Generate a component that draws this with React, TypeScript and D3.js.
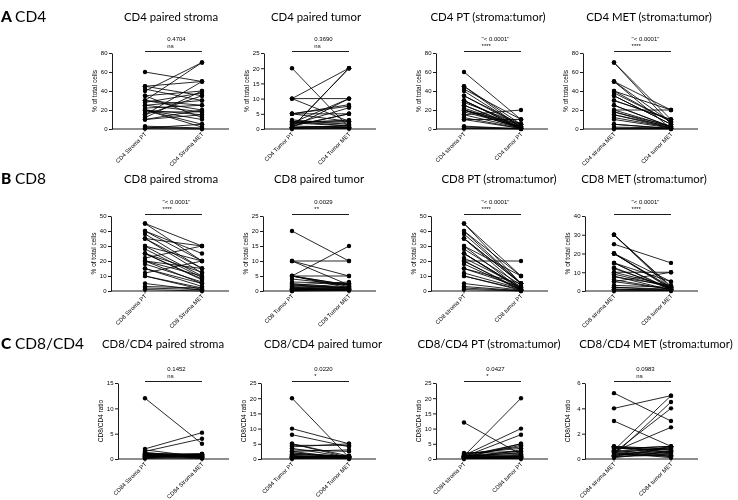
import React, { useEffect, useRef } from 'react';
import * as d3 from 'd3';

// ---------- DATA (per patient, % of total cells) ----------
const cd4StromaPT = [60, 45, 42, 40, 35, 30, 30, 30, 15, 25, 20, 20, 20, 20, 18, 15, 12, 10, 10, 3, 2, 1, 0.5, 28, 22, 35, 45, 25];
const cd4StromaMET = [50, 35, 30, 70, 40, 70, 25, 20, 50, 30, 15, 10, 5, 2, 18, 35, 40, 20, 15, 1, 0.5, 5, 0, 38, 25, 12, 50, 18];
const cd4TumorPT = [10, 5, 10, 2, 5, 1, 2.5, 0.5, 20, 0.5, 5, 2.5, 1, 0.5, 2, 1, 0.5, 10, 0.5, 0.2, 0.5, 0.2, 0.1, 5, 2, 3, 1.5, 2];
const cd4TumorMET = [20, 5, 10, 10, 7.5, 5, 2.5, 20, 0.5, 10, 2.5, 1, 0.5, 1, 1, 5, 20, 2.5, 1, 0.5, 0.2, 0.5, 0.2, 8, 2, 1.5, 7, 3];

const cd8StromaPT = [45, 40, 40, 35, 35, 30, 30, 25, 25, 20, 20, 20, 15, 15, 10, 10, 5, 3, 2, 1, 45, 35, 25, 22, 12, 18, 28, 38];
const cd8StromaMET = [30, 25, 20, 30, 15, 20, 10, 12.5, 8, 5, 15, 10, 5, 3, 2, 1, 0.5, 2, 1, 0, 20, 12, 7.5, 30, 20, 6, 9, 15];
const cd8TumorPT = [5, 5, 10, 2, 5, 1, 10, 2, 1, 20, 0.5, 1, 2.5, 5, 0.5, 1, 0.5, 0.2, 0.1, 0, 10, 5, 2, 3, 1.5, 0.8, 4, 5];
const cd8TumorMET = [2, 15, 2, 1, 1, 1.5, 10, 1, 0.5, 10, 0.5, 2.5, 1, 2, 0.5, 0.3, 0.2, 1, 0.5, 0.2, 5, 1.5, 3, 2.5, 1, 0.8, 2, 5];

const ratioStromaPT = [12, 2, 1.5, 1, 1.2, 0.8, 1, 0.5, 0.7, 0.3, 0.9, 0.6, 0.4, 1.1, 0.2, 0.5, 0.8, 1.3, 0.3, 0.1, 0.6, 0.9, 0.4, 1.8, 0.7, 0.2, 1, 0.5];
const ratioStromaMET = [3, 5.2, 4, 0.3, 0.7, 0.5, 1, 0.8, 0.3, 0.6, 1, 0.2, 0.9, 0.4, 0.1, 0.6, 0.9, 0.2, 0.7, 0.5, 1, 0.3, 0.8, 0.4, 0.6, 0.9, 0.2, 0.5];
const ratioTumorPT = [1.5, 2.5, 4, 20, 10, 8, 5, 5, 4.5, 3, 2, 1, 0.5, 2.5, 0.8, 0.3, 1.2, 0.6, 0.4, 0.2, 0.9, 1.5, 0.7, 3.5, 0.5, 0.1, 2, 0.3];
const ratioTumorMET = [1, 3, 5, 0.5, 5, 4, 0.5, 1, 4.5, 2.5, 0.8, 0.3, 0.7, 0.2, 0.6, 0.9, 0.4, 1, 0.3, 0.1, 0.5, 0.8, 1, 0.6, 0.2, 0.7, 0.4, 0.9];

// ---------- LABELS ----------
const rowLetters = ['A', 'B', 'C'];
const rowNames = ['CD4', 'CD8', 'CD8/CD4'];
const panelTitles = [
  ['CD4 paired stroma', 'CD4 paired tumor', 'CD4 PT (stroma:tumor)', 'CD4 MET (stroma:tumor)'],
  ['CD8 paired stroma', 'CD8 paired tumor', 'CD8 PT (stroma:tumor)', 'CD8 MET (stroma:tumor)'],
  ['CD8/CD4 paired stroma', 'CD8/CD4 paired tumor', 'CD8/CD4 PT (stroma:tumor)', 'CD8/CD4 MET (stroma:tumor)'],
];
const categoryLabels = [
  [['CD4 Stroma PT', 'CD4 Stroma MET'], ['CD4 Tumor PT', 'CD4 Tumor MET'], ['CD4 stroma PT', 'CD4 tumor PT'], ['CD4 stroma MET', 'CD4 tumor MET']],
  [['CD8 Stroma PT', 'CD8 Stroma MET'], ['CD8 Tumor PT', 'CD8 Tumor MET'], ['CD8 stroma PT', 'CD8 tumor PT'], ['CD8 stroma MET', 'CD8 tumor MET']],
  [['CD84 Stroma PT', 'CD84 Stroma MET'], ['CD84 Tumor PT', 'CD84 Tumor MET'], ['CD84 stroma PT', 'CD84 tumor PT'], ['CD84 stroma MET', 'CD84 tumor MET']],
];
const yAxisLabels = ['% of total cells', '% of total cells', 'CD8/CD4 ratio'];
const yMaxes = [[80, 25, 80, 80], [50, 25, 50, 40], [15, 25, 25, 6]];
const yTickSteps = [[20, 5, 20, 20], [10, 5, 10, 10], [5, 5, 5, 2]];
const pValues = [
  ['0.4704', '0.3690', '"< 0.0001"', '"< 0.0001"'],
  ['"< 0.0001"', '0.0029', '"< 0.0001"', '"< 0.0001"'],
  ['0.1452', '0.0220', '0.0427', '0.0983'],
];
const sigStars = [
  ['ns', 'ns', '****', '****'],
  ['****', '**', '****', '****'],
  ['ns', '*', '*', 'ns'],
];

const rowData = [
  [cd4StromaPT, cd4StromaMET, cd4TumorPT, cd4TumorMET],
  [cd8StromaPT, cd8StromaMET, cd8TumorPT, cd8TumorMET],
  [ratioStromaPT, ratioStromaMET, ratioTumorPT, ratioTumorMET],
];
// pairs: [left index, right index] into rowData arrays for each column
const columnPairs = [[0, 1], [2, 3], [0, 2], [1, 3]];

// ---------- LAYOUT ----------
const W = 738, H = 500;
const colCats = [[145, 202], [292, 349], [464, 521], [614, 671]];
const axisXs = [[112, 264, 436, 583], [111, 263, 431, 585], [118, 261, 436, 585]];
const rowY = [[53, 129], [216, 291], [383, 459]];
const rowTitleY = [21, 183, 348];
const titleXs = [[171, 316, 488, 649], [171, 319, 499, 644], [163, 323, 489, 656]];
const SMALL = '"Liberation Sans", Arial, sans-serif';
const TITLE = 'Lato, "Open Sans", sans-serif';

export default function App() {
  const ref = useRef<SVGSVGElement>(null);
  useEffect(() => {
    const root = d3.select(ref.current);
    root.selectAll('*').remove();
    const svg = root.append('g').attr('opacity', 0.999);

    rowLetters.forEach((letter, r) => {
      const t = svg.append('text').attr('x', 1).attr('y', rowTitleY[r] + 1)
        .attr('font-family', TITLE).attr('font-size', 15.5).attr('fill', '#000');
      t.append('tspan').attr('font-weight', 900).text(letter + ' ');
      t.append('tspan').text(rowNames[r]);

      for (let c = 0; c < 4; c++) {
        const [li, ri] = columnPairs[c];
        const left = rowData[r][li];
        const right = rowData[r][ri];
        const labels = categoryLabels[r][c];
        const [cL, cR] = colCats[c];
        const axisX = axisXs[r][c];
        const endX = cR + 27;
        const [yTop, y0] = rowY[r];
        const yMax = yMaxes[r][c];

        const x = d3.scalePoint<string>().domain(labels).range([cL, cR]);
        const y = d3.scaleLinear().domain([0, yMax]).range([y0, yTop]);
        const g = svg.append('g');

        // title
        g.append('text').attr('x', titleXs[r][c]).attr('y', rowTitleY[r])
          .attr('text-anchor', 'middle').attr('font-family', TITLE).attr('font-size', 11.4)
          .attr('fill', '#000').text(panelTitles[r][c]);

        // y axis
        const ticks = d3.range(0, yMax + 1e-9, yTickSteps[r][c]);
        const ya = g.append('g').attr('transform', `translate(${axisX},0)`)
          .call(d3.axisLeft(y).tickValues(ticks).tickSize(3).tickSizeOuter(0).tickPadding(1.5).tickFormat(d3.format('d')));
        ya.selectAll('text').attr('font-family', SMALL).attr('font-size', 6).attr('fill', '#000');
        ya.selectAll('line,path').attr('stroke', '#000').attr('stroke-width', 0.9);

        // x axis
        g.append('line').attr('x1', axisX).attr('x2', endX).attr('y1', y0).attr('y2', y0)
          .attr('stroke', '#000').attr('stroke-width', 0.9);
        labels.forEach((lab) => {
          const cx = x(lab)!;
          g.append('line').attr('x1', cx).attr('x2', cx).attr('y1', y0).attr('y2', y0 + 2.5)
            .attr('stroke', '#000').attr('stroke-width', 0.8);
          g.append('text').attr('transform', `translate(${cx + 2},${y0 + 5.5}) rotate(-45)`)
            .attr('text-anchor', 'end').attr('font-family', SMALL).attr('font-size', 5.8)
            .attr('fill', '#000').text(lab);
        });

        // y label
        g.append('text').attr('transform', `translate(${axisX - 15},${(y0 + yTop) / 2}) rotate(-90)`)
          .attr('text-anchor', 'middle').attr('font-family', SMALL).attr('font-size', 6.5)
          .attr('fill', '#000').text(yAxisLabels[r]);

        // paired lines
        left.forEach((v, i) => {
          g.append('line').attr('x1', x(labels[0])!).attr('y1', y(v))
            .attr('x2', x(labels[1])!).attr('y2', y(right[i]))
            .attr('stroke', '#000').attr('stroke-width', 0.85);
        });
        // points
        [left, right].forEach((arr, k) => {
          arr.forEach((v) => {
            g.append('circle').attr('cx', x(labels[k])!).attr('cy', y(v)).attr('r', 2.2).attr('fill', '#000');
          });
        });

        // significance bar
        const barY = yTop - 1.5;
        g.append('line').attr('x1', cL).attr('x2', cR).attr('y1', barY).attr('y2', barY)
          .attr('stroke', '#000').attr('stroke-width', 0.9);
        const mid = (cL + cR) / 2 + 3;
        const pt = g.append('text').attr('x', mid).attr('y', barY - 11).attr('text-anchor', 'middle')
          .attr('font-family', SMALL).attr('font-size', 6).attr('fill', '#000').text(pValues[r][c]);
        const w = (pt.node() as SVGTextElement).getComputedTextLength();
        g.append('text').attr('x', mid - w / 2).attr('y', barY - 3.5)
          .attr('font-family', SMALL).attr('font-size', 6).attr('fill', '#000').text(sigStars[r][c]);
      }
    });
  }, []);

  return (
    <svg ref={ref} width={W} height={H} style={{ position: 'fixed', left: 0, top: 0, background: '#fff' }} />
  );
}
